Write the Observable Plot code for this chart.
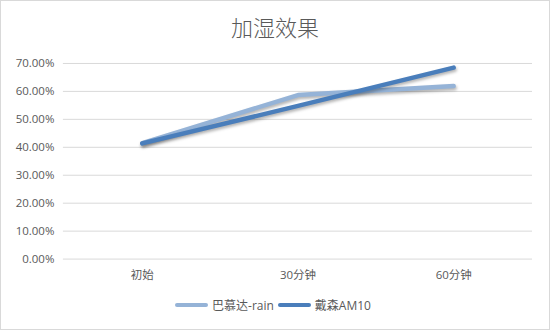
<!DOCTYPE html>
<html>
<head>
<meta charset="utf-8">
<script src="https://cdn.jsdelivr.net/npm/d3@7"></script>
<script src="https://cdn.jsdelivr.net/npm/@observablehq/plot@0.6"></script>
<style>
  body { margin: 0; background: #fff; }
  #chart { position: relative; width: 548px; height: 328px; border: 1px solid #d9d9d9; background: #fff; overflow: hidden;
    font-family: "Open Sans", "Noto Sans CJK SC", sans-serif; color: #595959; }
  #title { position: absolute; top: 9px; left: 0; width: 548px; text-align: center; font-size: 22px; font-family: "Noto Sans CJK SC", sans-serif; font-weight: 300; color: #595959; }
  #plot { position: absolute; top: 39px; left: -1px; }
  #legend { position: absolute; top: 295px; left: -4px; width: 548px; display: flex; justify-content: center; align-items: center; font-size: 12px; color: #595959; }
  .sw { display: inline-block; width: 33px; height: 4px; border-radius: 2px; margin: 0 4px 0 4px; }
  #plot svg g[aria-label="line"] path { filter: drop-shadow(1px 2px 1.5px rgba(0,0,0,0.3)); }
</style>
</head>
<body>
<div id="chart">
  <div id="title">加湿效果</div>
  <div id="plot"></div>
  <div id="legend"></div>
</div>
<script>
const categories = ["初始", "30分钟", "60分钟"];
const seriesNames = ["巴慕达-rain", "戴森AM10"];
const balmudaValues = [0.415, 0.587, 0.619];
const dysonValues = [0.414, 0.548, 0.685];
const seriesColors = ["#95b3d7", "#4a7ebb"];
const yTicks = [0, 0.1, 0.2, 0.3, 0.4, 0.5, 0.6, 0.7];

const data = [];
categories.forEach((c, i) => {
  data.push({cat: c, value: balmudaValues[i], series: seriesNames[0]});
});
categories.forEach((c, i) => {
  data.push({cat: c, value: dysonValues[i], series: seriesNames[1]});
});

const chart = Plot.plot({
  width: 550,
  height: 252,
  marginTop: 23,
  marginBottom: 33,
  marginLeft: 63,
  marginRight: 17,
  style: {fontFamily: '"Open Sans", "Noto Sans CJK SC", sans-serif', fontSize: "11px", color: "#595959", background: "transparent"},
  x: {type: "point", domain: categories, padding: 0.5, label: null},
  y: {domain: [0, 0.7], label: null},
  color: {domain: seriesNames, range: seriesColors},
  marks: [
    Plot.gridY(yTicks, {stroke: "#d9d9d9", strokeOpacity: 1, strokeWidth: 1}),
    Plot.axisY(yTicks, {tickSize: 0, tickPadding: 9, tickFormat: d => (d * 100).toFixed(2) + "%", fill: "#595959", fontSize: 11.5, label: null}),
    Plot.axisX({tickSize: 0, tickPadding: 12, fill: "#595959", fontSize: 11.5, label: null}),
    Plot.line(data, {x: "cat", y: "value", z: "series", stroke: "series", strokeWidth: 4.5, strokeLinecap: "round", strokeLinejoin: "round"})
  ]
});
document.getElementById("plot").appendChild(chart);

const legend = document.getElementById("legend");
seriesNames.forEach((n, i) => {
  const sw = document.createElement("span");
  sw.className = "sw";
  sw.style.background = seriesColors[i];
  legend.appendChild(sw);
  const t = document.createElement("span");
  t.textContent = n;
  legend.appendChild(t);
});
</script>
</body>
</html>
